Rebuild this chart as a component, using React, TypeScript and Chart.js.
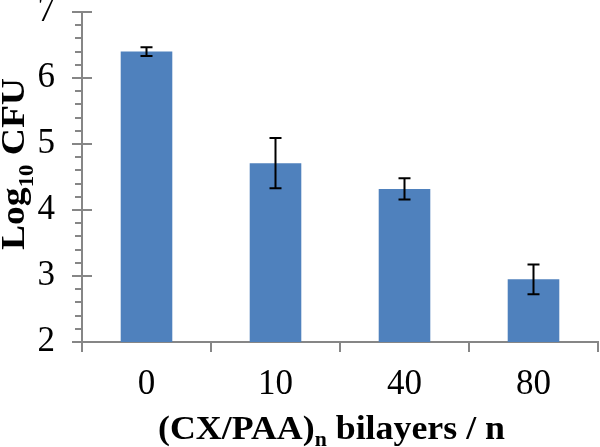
import React, { useEffect, useRef } from "react";
import { Chart, registerables } from "chart.js";

Chart.register(...registerables);

const categories = ["0", "10", "40", "80"];
const values = [6.4, 4.71, 4.32, 2.95];
const errors = [0.065, 0.38, 0.16, 0.225];
const yTickValues = [2, 3, 4, 5, 6, 7];

const SERIF = "'Liberation Serif', 'Times New Roman', serif";
const AXIS_COLOR = "#868686";

type Part = { text: string; sub?: boolean };

function drawComposite(
  ctx: CanvasRenderingContext2D,
  parts: Part[],
  bigFont: string,
  smallFont: string,
  subDrop: number,
  targetLen: number
) {
  const widths = parts.map((p) => {
    ctx.font = p.sub ? smallFont : bigFont;
    return ctx.measureText(p.text).width;
  });
  const total = widths.reduce((a, b) => a + b, 0);
  const s = targetLen / total;
  ctx.scale(s, 1);
  let x = -total / 2;
  parts.forEach((p, i) => {
    ctx.font = p.sub ? smallFont : bigFont;
    ctx.fillText(p.text, x, p.sub ? subDrop : 0);
    x += widths[i];
  });
}

const errorBarPlugin = {
  id: "errorBars",
  afterDatasetsDraw(chart: any) {
    const { ctx, scales } = chart;
    const meta = chart.getDatasetMeta(0);
    ctx.save();
    ctx.strokeStyle = "#000";
    ctx.lineWidth = 2;
    meta.data.forEach((bar: any, i: number) => {
      const x = bar.x;
      const yTop = scales.y.getPixelForValue(values[i] + errors[i]);
      const yBot = scales.y.getPixelForValue(values[i] - errors[i]);
      ctx.beginPath();
      ctx.moveTo(x, yTop);
      ctx.lineTo(x, yBot);
      ctx.moveTo(x - 6, yTop);
      ctx.lineTo(x + 6, yTop);
      ctx.moveTo(x - 6, yBot);
      ctx.lineTo(x + 6, yBot);
      ctx.stroke();
    });
    ctx.restore();
  },
};

const axisDecorPlugin = {
  id: "axisDecor",
  afterDraw(chart: any) {
    const { ctx, scales, chartArea } = chart;
    const y = scales.y;
    const ax = chartArea.left;
    ctx.save();
    ctx.strokeStyle = AXIS_COLOR;
    ctx.lineWidth = 2;
    for (let k = 0; k <= 25; k++) {
      const v = 2 + k * 0.2;
      const py = Math.round(y.getPixelForValue(v));
      const major = k % 5 === 0;
      ctx.beginPath();
      if (major) {
        ctx.moveTo(ax - 10, py);
        ctx.lineTo(ax + 10, py);
      } else {
        ctx.moveTo(ax - 7, py);
        ctx.lineTo(ax, py);
      }
      ctx.stroke();
    }
    ctx.restore();

    // Y title
    ctx.save();
    ctx.fillStyle = "#000";
    ctx.textBaseline = "alphabetic";
    ctx.translate(24, 164);
    ctx.rotate(-Math.PI / 2);
    drawComposite(
      ctx,
      [{ text: "Log" }, { text: "10", sub: true }, { text: " CFU" }],
      `bold 33px ${SERIF}`,
      `bold 20px ${SERIF}`,
      9,
      172
    );
    ctx.restore();

    // X title
    ctx.save();
    ctx.fillStyle = "#000";
    ctx.textBaseline = "alphabetic";
    ctx.translate(331.5, 439);
    drawComposite(
      ctx,
      [{ text: "(CX/PAA)" }, { text: "n", sub: true }, { text: " bilayers / n" }],
      `bold 33px ${SERIF}`,
      `bold 20px ${SERIF}`,
      7,
      347
    );
    ctx.restore();
  },
};

export default function App() {
  const ref = useRef<HTMLCanvasElement | null>(null);
  useEffect(() => {
    if (!ref.current) return;
    const chart = new Chart(ref.current, {
      type: "bar",
      data: {
        labels: categories,
        datasets: [
          {
            data: values,
            backgroundColor: "#4F81BD",
            borderWidth: 0,
            categoryPercentage: 1,
            barPercentage: 0.4,
          },
        ],
      },
      options: {
        animation: false,
        responsive: false,
        maintainAspectRatio: false,
        layout: { padding: { top: 12, right: 2, left: 0, bottom: 0 } },
        plugins: {
          legend: { display: false },
          tooltip: { enabled: false },
        },
        scales: {
          x: {
            offset: true,
            grid: {
              offset: true,
              drawOnChartArea: false,
              drawTicks: true,
              tickLength: 10,
              color: AXIS_COLOR,
              lineWidth: 2,
            },
            border: { color: AXIS_COLOR, width: 2 },
            ticks: {
              color: "#000",
              font: { family: SERIF, size: 35 },
              padding: 12,
              maxRotation: 0,
            },
            afterFit(scale: any) {
              scale.height = 447 - 342;
              scale.paddingLeft = 0;
              scale.paddingRight = 0;
            },
          },
          y: {
            min: 2,
            max: 7,
            afterBuildTicks(scale: any) {
              scale.ticks = yTickValues.map((v) => ({ value: v }));
            },
            grid: {
              display: true,
              drawOnChartArea: false,
              drawTicks: false,
              color: "rgba(0,0,0,0)",
            },
            border: { color: AXIS_COLOR, width: 2 },
            ticks: {
              color: "#000",
              font: { family: SERIF, size: 35 },
              padding: 27,
            },
            afterFit(scale: any) {
              scale.width = 82;
              scale.paddingTop = 0;
              scale.paddingBottom = 0;
            },
          },
        },
      },
      plugins: [errorBarPlugin, axisDecorPlugin],
    });
    return () => chart.destroy();
  }, []);
  return (
    <div style={{ position: "fixed", left: 0, top: 0, width: 600, height: 447, background: "#fff" }}>
      <canvas ref={ref} width={600} height={447} />
    </div>
  );
}
